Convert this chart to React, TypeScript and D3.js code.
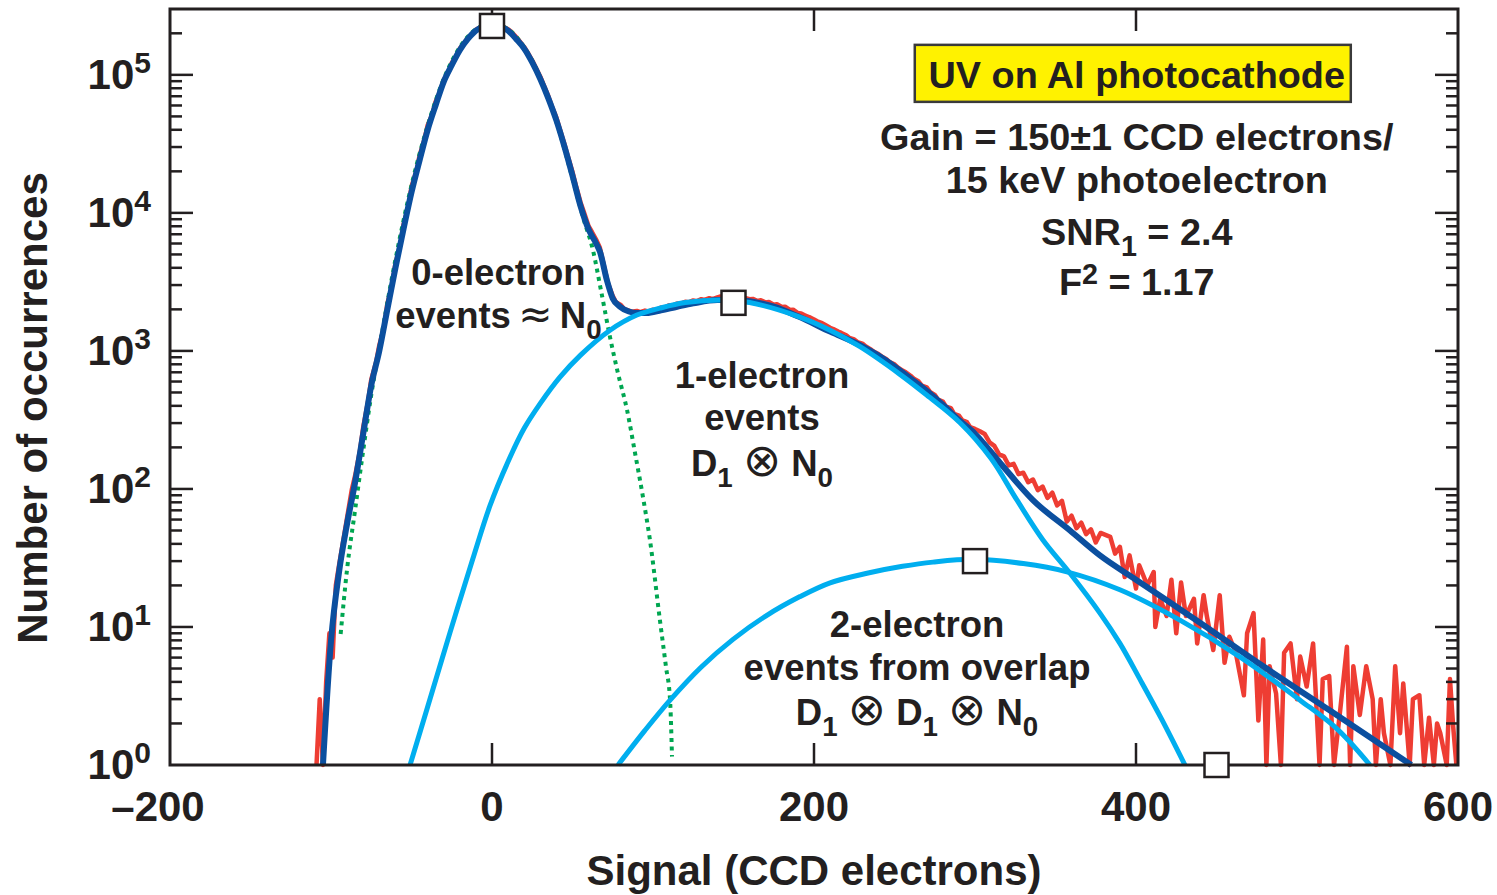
import React, { useEffect, useRef } from 'react';
import * as d3 from 'd3';

// measured histogram (red), signal in CCD electrons / number of occurrences
const redX = [
  -109, -107, -105, -103, -101, -99, -97, -95, -92, -90, -87, -85, -82, -80, -77, -75, -72, -70, -67, -65,
  -62, -60, -57, -55, -52, -50, -47, -45, -42, -40, -37, -35, -32, -30, -27, -25, -22, -20, -17, -15,
  -12, -10, -7, -5, -2, 0, 2, 5, 7, 10, 12, 15, 17, 20, 22, 25, 27, 30, 32, 35,
  37, 40, 42, 45, 47, 50, 52, 55, 57, 60, 62, 65, 67, 70, 72, 75, 77, 80, 82, 85,
  87, 90, 92, 95, 97, 100, 102, 105, 107, 110, 112, 115, 117, 120, 122, 125, 127, 130, 132, 135,
  137, 140, 142, 145, 147, 150, 152, 155, 157, 160, 162, 165, 167, 170, 172, 175, 177, 180, 182, 185,
  187, 190, 192, 195, 197, 200, 202, 205, 207, 210, 212, 215, 217, 220, 222, 225, 227, 230, 232, 235,
  237, 240, 242, 245, 247, 250, 252, 255, 257, 260, 262, 265, 267, 270, 272, 275, 277, 280, 282, 285,
  287, 290, 292, 295, 297, 300, 303, 306, 309, 312, 315, 318, 321, 324, 327, 330, 333, 336, 339, 342,
  345, 348, 351, 354, 357, 360, 363, 366, 369, 372, 375, 378, 384, 387, 390, 393, 396, 400, 402, 407,
  411, 412, 415, 419, 422, 425, 428, 431, 436, 438, 442, 444, 448, 452, 455, 458, 462, 467, 469, 473,
  476, 479, 481, 483, 487, 490, 492, 496, 500, 502, 506, 510, 514, 516, 520, 523, 527, 531, 533, 535,
  539, 543, 547, 549, 552, 554, 558, 561, 564, 566, 570, 572, 576, 579, 582, 585, 587, 589, 593, 595,
  597, 599
];
const redY = [
  1, 3, 1, 4, 9, 6, 20, 28, 45, 62, 100, 125, 190, 280, 430, 620, 830, 1100, 1500, 2200,
  3000, 4300, 5800, 8200, 11000, 15500, 20000, 26000, 34000, 43000, 52000, 64000, 77000, 92000, 105000, 122000, 138000, 155000, 172000, 186000,
  200000, 212000, 222000, 228000, 232000, 233000, 232000, 228000, 223000, 214000, 205000, 188000, 176000, 159000, 146000, 127000, 114000, 97000, 85000, 70000,
  60000, 49000, 41000, 31500, 26000, 19800, 16000, 11900, 10200, 8000, 7300, 6300, 5600, 3900, 3100, 2500, 2250, 2150, 2020, 1960,
  1920, 1950, 1910, 1960, 1930, 1990, 1980, 2060, 2040, 2140, 2120, 2210, 2190, 2270, 2250, 2320, 2290, 2370, 2340, 2410,
  2370, 2440, 2480, 2400, 2460, 2420, 2450, 2400, 2420, 2370, 2380, 2300, 2330, 2240, 2260, 2160, 2180, 2080, 2090, 1980,
  1990, 1880, 1870, 1790, 1760, 1690, 1640, 1590, 1540, 1470, 1440, 1380, 1350, 1300, 1240, 1210, 1160, 1130, 1080, 1030,
  990, 950, 910, 870, 830, 800, 760, 720, 700, 660, 630, 600, 560, 545, 505, 480, 445, 430, 395, 385,
  350, 340, 315, 305, 280, 272, 262, 250, 218, 205, 178, 172, 148, 152, 128, 131, 112, 117, 98, 104,
  86, 94, 76, 82, 58, 64, 52, 57, 47, 51, 41, 48, 45, 34, 38, 23, 33, 19, 28, 20,
  25, 10, 16, 12, 22, 9, 21, 12, 16, 7.6, 17, 12, 6.8, 17, 5.5, 8.5, 6.5, 3.2, 9, 12.6,
  2.1, 8.1, 1, 5.2, 3.3, 1, 6.5, 7.6, 3, 6.1, 3.7, 7.6, 1, 4.2, 4.4, 1, 2.6, 7.2, 1, 5.2,
  2.3, 5.2, 3, 1, 3, 1.7, 1, 5.2, 1.7, 3.9, 1, 3, 3.2, 1, 2.2, 1, 2, 1.7, 1, 4.2,
  1.9, 1
];

// total fit (dark blue)
const fitX = [
  -105, -100, -95, -90, -85, -80, -75, -70, -65, -60, -55, -50, -45, -40, -35, -30, -25, -20, -15, -10,
  -5, 0, 5, 10, 15, 20, 25, 30, 35, 40, 45, 50, 55, 60, 64.6, 67, 71.4, 75, 79.5, 85,
  90, 96, 105, 115, 125, 140, 150, 160, 175, 190, 210, 228.6, 245, 260, 270, 280, 290, 300, 315.5, 336,
  359, 377.6, 400, 440, 480, 520, 571
];
const fitY = [
  1, 7.9, 25, 56, 112, 251, 562, 1000, 2000, 3980, 7590, 14100, 24000, 39800, 60300, 89100, 117500, 151000, 182000, 209000,
  224000, 229000, 224000, 209000, 182000, 155000, 123000, 93300, 67600, 46800, 30200, 18600, 11200, 7590, 6030, 5250, 3240, 2400, 2090, 1930,
  1880, 1880, 1970, 2090, 2210, 2340, 2340, 2290, 2090, 1780, 1380, 1100, 850, 630, 513, 407, 316, 251, 155, 83,
  50, 33, 22, 10.7, 5.1, 2.5, 1
];

// 0-electron events ≈ N0 (green dotted)
const zeroX = [
  -94, -90, -85, -80, -75, -70, -60, -50, -40, -30, -20, -10, 0, 10, 20, 30, 40, 50, 56.5, 62.7,
  68, 73.3, 78, 83.9, 89, 93.8, 98.1, 104.3, 108, 110.6, 111.8
];
const zeroY = [
  8.9, 26.3, 70.8, 190, 479, 1047, 4571, 15850, 42660, 93330, 158500, 213800, 234400, 213800, 158500, 95500, 45700, 17780, 9330, 5370,
  2630, 1259, 708, 372, 178, 87, 42.7, 11.2, 5.2, 2.95, 1.15
];

// 1-electron events D1 ⊗ N0 (light blue)
const oneX = [
  -50.9, -40, -26.1, -12, -1.2, 10, 20, 30, 42.2, 55, 73.3, 90, 104.3, 120, 141.6, 160, 190, 210, 228.6, 253.4,
  270, 290.7, 310, 326, 342.2, 359, 377.6, 390, 402.5, 416, 430.4
];
const oneY = [
  1, 2.63, 9.1, 30.9, 75.9, 158, 275, 417, 646, 933, 1413, 1820, 2040, 2240, 2340, 2240, 1780, 1413, 1072, 676,
  479, 302, 166, 83.2, 42.7, 24.5, 12.6, 7.6, 4.17, 2.14, 1
];

// 2-electron events from overlap D1 ⊗ D1 ⊗ N0 (light blue)
const twoX = [78.3, 95, 110.6, 130, 149.7, 170, 191.3, 210, 232.9, 255, 273.9, 298.8, 330, 357.1, 390, 427.3, 465, 501.9, 525, 545.3];
const twoY = [1, 1.78, 2.95, 5.13, 8.13, 12.0, 16.6, 20.9, 24.5, 27.5, 29.5, 30.9, 28.8, 25.1, 18.6, 11.2, 6.03, 2.95, 1.82, 1];

// open square markers
const markX = [0, 150, 300, 450];
const markY = [226000, 2230, 30, 1];

const xTicks = [-200, 0, 200, 400, 600];
const yDecades = [0, 1, 2, 3, 4, 5];

const FONT = '"Liberation Sans", Arial, Helvetica, sans-serif';
const SYMBOL_FONT = '"DejaVu Sans", sans-serif';
const INK = '#231f20';

function App() {
  const svgRef = useRef(null);

  useEffect(() => {
    const svg = d3.select(svgRef.current);
    svg.selectAll('*').remove();

    const x = d3.scaleLinear().domain([-200, 600]).range([170, 1458]);
    const y = d3.scaleLog().domain([1, 3e5]).range([765, 9]);
    const [x0, x1] = x.range();
    const [y0, y1] = y.range();

    const lineOf = (xs, ys, curve) =>
      d3.line()
        .x((d, i) => x(xs[i]))
        .y(d => y(Math.max(1, d)))
        .curve(curve)(ys);

    // data lines
    svg.append('path')
      .attr('d', lineOf(redX, redY, d3.curveLinear))
      .attr('fill', 'none').attr('stroke', '#ee3d33').attr('stroke-width', 4.5)
      .attr('stroke-linejoin', 'round');

    svg.append('path')
      .attr('d', lineOf(zeroX, zeroY, d3.curveMonotoneX))
      .attr('fill', 'none').attr('stroke', '#00a651').attr('stroke-width', 4)
      .attr('stroke-dasharray', '4 4.5');

    svg.append('path')
      .attr('d', lineOf(fitX, fitY, d3.curveMonotoneX))
      .attr('fill', 'none').attr('stroke', '#0b4f9f').attr('stroke-width', 6)
      .attr('stroke-linejoin', 'round');

    [[oneX, oneY], [twoX, twoY]].forEach(([xs, ys]) => {
      svg.append('path')
        .attr('d', lineOf(xs, ys, d3.curveCatmullRom))
        .attr('fill', 'none').attr('stroke', '#00aeef').attr('stroke-width', 5);
    });

    // frame
    svg.append('rect')
      .attr('x', x0).attr('y', y1).attr('width', x1 - x0).attr('height', y0 - y1)
      .attr('fill', 'none').attr('stroke', INK).attr('stroke-width', 3);

    const ticks = svg.append('g').attr('stroke', INK).attr('stroke-width', 2.5);

    // y ticks, both sides
    yDecades.forEach(k => {
      for (let m = 1; m <= 9; m++) {
        const v = m * Math.pow(10, k);
        if (v >= 3e5 || (k === 0 && m === 1)) continue;
        const len = m === 1 ? 23 : 12;
        ticks.append('line').attr('x1', x0).attr('x2', x0 + len).attr('y1', y(v)).attr('y2', y(v));
        ticks.append('line').attr('x1', x1).attr('x2', x1 - len).attr('y1', y(v)).attr('y2', y(v));
      }
    });

    // x ticks, top and bottom
    xTicks.slice(1, -1).forEach(t => {
      ticks.append('line').attr('x1', x(t)).attr('x2', x(t)).attr('y1', y0).attr('y2', y0 - 22);
      ticks.append('line').attr('x1', x(t)).attr('x2', x(t)).attr('y1', y1).attr('y2', y1 + 22);
    });

    const txt = svg.append('g')
      .attr('font-family', FONT).attr('font-weight', 'bold').attr('fill', INK);

    // x tick labels (digits centred on the tick, dash hangs left)
    xTicks.forEach(t => {
      const s = String(Math.abs(t));
      const lab = txt.append('text').attr('x', x(t)).attr('y', 821)
        .attr('text-anchor', 'middle').attr('font-size', 42).text(s);
      if (t < 0) {
        lab.attr('x', x(t) - 12).text('\u2013' + s);
      }
    });

    // y tick labels 10^k
    yDecades.forEach(k => {
      const t = txt.append('text').attr('x', 151).attr('y', y(Math.pow(10, k)) + 14)
        .attr('text-anchor', 'end').attr('font-size', 42);
      t.append('tspan').text('10');
      t.append('tspan').attr('dy', -16).attr('font-size', 30).text(String(k));
    });

    // axis titles
    txt.append('text').attr('x', (x0 + x1) / 2).attr('y', 885)
      .attr('text-anchor', 'middle').attr('font-size', 42).text('Signal (CCD electrons)');
    txt.append('text').attr('transform', 'translate(47,408) rotate(-90)')
      .attr('text-anchor', 'middle').attr('font-size', 42).text('Number of occurrences');

    // annotation with sub/superscripts
    const label = (cx, by, parts, size = 36.5) => {
      const t = txt.append('text').attr('x', cx).attr('y', by)
        .attr('text-anchor', 'middle').attr('font-size', size);
      let shift = 0;
      parts.forEach(p => {
        const target = p.sub ? 11 : p.sup ? -11 : 0;
        const ts = t.append('tspan').attr('dy', target - shift).text(p.t);
        shift = target;
        if (p.sub || p.sup) ts.attr('font-size', size * 0.76);
        if (p.light) {
          ts.attr('font-family', SYMBOL_FONT).attr('font-weight', 'normal')
            .attr('font-size', size * (p.big || 1.12));
        }
      });
      return t;
    };

    const block = (cx, by, lines, offsets) => {
      lines.forEach((parts, i) => label(cx, by + offsets[i], parts));
    };

    const otimes = [{ t: ' ' }, { t: '\u2297', light: true, big: 1.25 }, { t: ' ' }];

    block(x(4), y(3000), [
      [{ t: '0-electron' }],
      [{ t: 'events\u2009' }, { t: '\u2248', light: true }, { t: '\u2009N' }, { t: '0', sub: true }],
    ], [0, 43]);

    block(x(167.7), y(540), [
      [{ t: '1-electron' }],
      [{ t: 'events' }],
      [{ t: 'D' }, { t: '1', sub: true }, ...otimes, { t: 'N' }, { t: '0', sub: true }],
    ], [0, 42, 88]);

    block(x(264), y(8.5), [
      [{ t: '2-electron' }],
      [{ t: 'events from overlap' }],
      [{ t: 'D' }, { t: '1', sub: true }, ...otimes, { t: 'D' }, { t: '1', sub: true },
        ...otimes, { t: 'N' }, { t: '0', sub: true }],
    ], [0, 43, 88]);

    // info box
    const bx = x(398);
    const by = y(80500);
    txt.append('rect')
      .attr('x', bx - 218).attr('y', by - 43).attr('width', 436).attr('height', 57)
      .attr('fill', '#fff200').attr('stroke', '#3a3a3a').attr('stroke-width', 2.5);
    label(bx + 4, by, [{ t: 'UV on Al photocathode' }], 37.8);
    label(bx + 4, by + 62, [{ t: 'Gain = 150\u00b11 CCD electrons/' }], 37.8);
    label(bx + 4, by + 105, [{ t: '15 keV photoelectron' }], 37.8);
    label(bx + 4, by + 157, [{ t: 'SNR' }, { t: '1', sub: true }, { t: ' = 2.4' }], 37.8);
    label(bx + 4, by + 207, [{ t: 'F' }, { t: '2', sup: true }, { t: ' = 1.17' }], 37.8);

    // square markers
    svg.append('g').selectAll('rect')
      .data(markX)
      .enter().append('rect')
      .attr('x', (d) => x(d) - 12)
      .attr('y', (d, i) => y(markY[i]) - 12)
      .attr('width', 24).attr('height', 24)
      .attr('fill', '#fff').attr('stroke', INK).attr('stroke-width', 2.5);
  }, []);

  return (
    <svg
      ref={svgRef}
      width={1497}
      height={895}
      style={{ position: 'absolute', left: 0, top: 0, background: '#fff' }}
    />
  );
}

export default App;
